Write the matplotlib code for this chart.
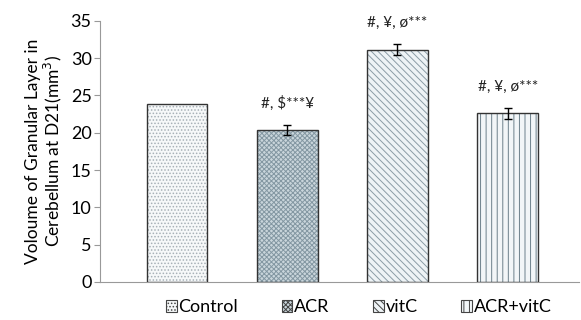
import numpy as np
import matplotlib.pyplot as plt
from matplotlib.patches import Patch

plt.rcParams['font.family'] = ['Lato', 'DejaVu Sans']

groups = ['Control', 'ACR', 'vitC', 'ACR+vitC']
volume = [23.8, 20.4, 31.1, 22.6]
sem = [0.0, 0.65, 0.75, 0.75]
marks = ['', '#, $***¥', '#, ¥, ø***', '#, ¥, ø***']

faces = ['#f6f8f9', '#c9d5db', '#eef3f6', '#f2f6f8']
hatch_colors = ['#a7b0b7', '#8397a2', '#8b9ca6', '#6c808b']
hatches = ['.....', 'xxxxxxx', '\\\\\\\\\\', '|||']

fig = plt.figure(figsize=(5.81, 3.2), dpi=100)
ax = fig.add_axes([0.172, 0.119, 0.825, 0.816])

x = np.arange(len(groups))
width = 0.55
plt.rcParams['hatch.linewidth'] = 0.7

for i in range(len(groups)):
    # hatch layer, then a dark outline on top
    ax.bar(x[i], volume[i], width, color=faces[i], hatch=hatches[i],
           edgecolor=hatch_colors[i], linewidth=0, zorder=2)
    ax.bar(x[i], volume[i], width, fill=False, edgecolor='#333333',
           linewidth=1.0, zorder=3)

err_idx = [i for i in range(len(groups)) if sem[i] > 0]
ax.errorbar(x[err_idx], [volume[i] for i in err_idx], yerr=[sem[i] for i in err_idx],
            fmt='none', ecolor='black', elinewidth=1, capsize=3, capthick=1, zorder=4)

for i in range(len(groups)):
    if marks[i]:
        ax.text(x[i], volume[i] + sem[i] + 1.9, marks[i], ha='center', va='bottom',
                fontsize=11, color='#222222')

ax.set_xlim(-0.7, 3.65)
ax.set_ylim(0, 35)
ax.set_yticks(range(0, 36, 5))
ax.set_xticks([])
ax.tick_params(axis='y', labelsize=13, length=4, color='#999999', pad=2)
for s in ['top', 'right']:
    ax.spines[s].set_visible(False)
ax.spines['left'].set_color('#999999')
ax.spines['bottom'].set_color('#999999')
ax.set_ylabel('Voloume of Granular Layer in\nCerebellum at D21(mm$^3$)',
              fontsize=12.5, linespacing=1.0, labelpad=5)

handles = [Patch(facecolor=faces[i], hatch=hatches[i], edgecolor='#444444',
                 linewidth=0.8) for i in range(len(groups))]
ax.legend(handles, groups, loc='upper center', bbox_to_anchor=(0.54, -0.005), ncol=4,
          frameon=False, fontsize=13, handlelength=0.6, handleheight=0.6,
          handletextpad=0.1, columnspacing=2.4)

fig.savefig('out.png', dpi=100)
